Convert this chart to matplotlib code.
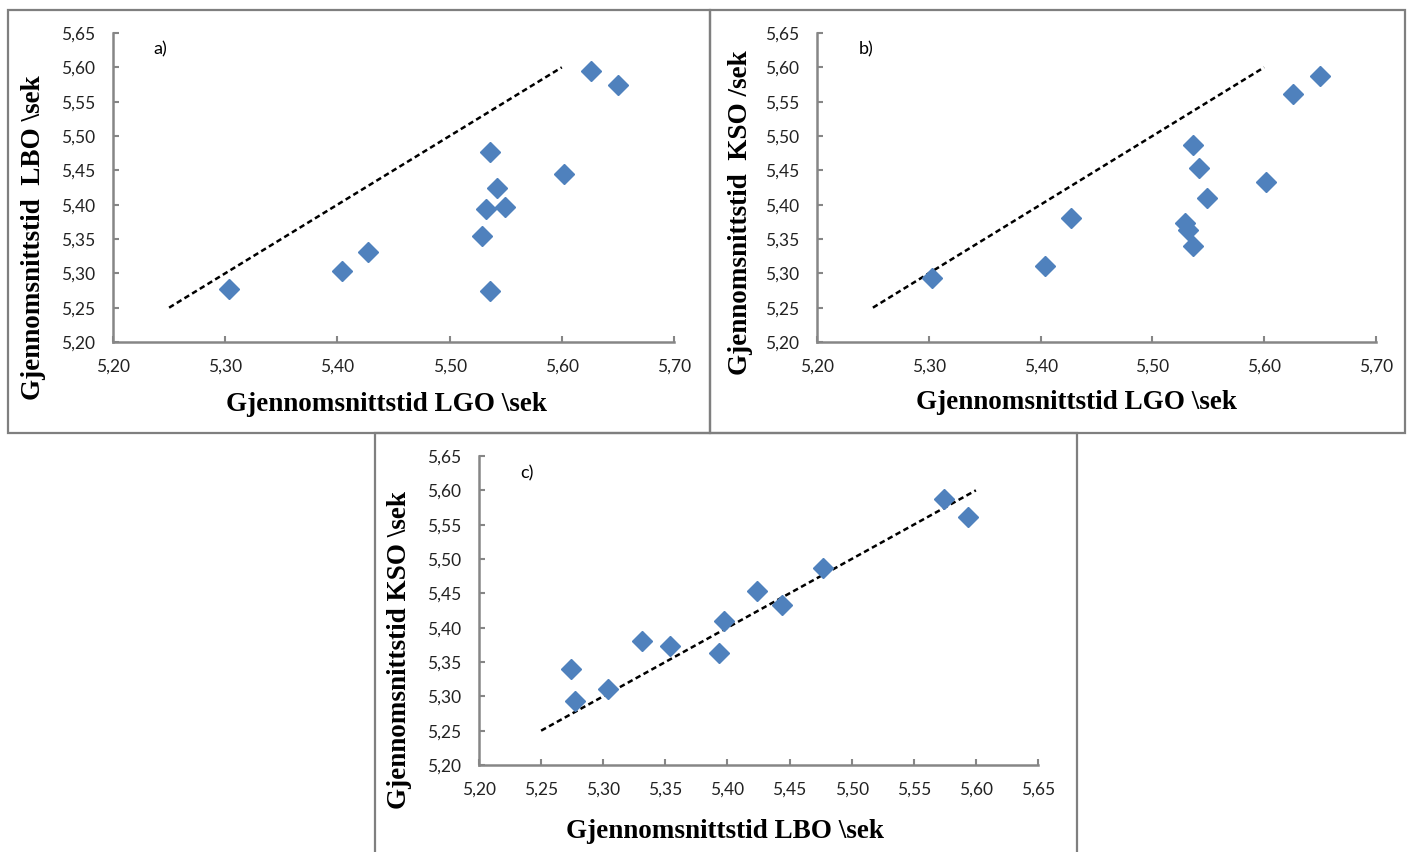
import matplotlib
matplotlib.use("Agg")
import matplotlib.pyplot as plt
from matplotlib.patches import Rectangle

# ---- data (12 participants) ----
lgo = [5.303, 5.404, 5.427, 5.529, 5.532, 5.536, 5.536, 5.542, 5.549, 5.602, 5.626, 5.650]
lbo = [5.277, 5.304, 5.331, 5.354, 5.393, 5.477, 5.274, 5.424, 5.397, 5.444, 5.594, 5.574]
kso = [5.293, 5.310, 5.380, 5.374, 5.363, 5.487, 5.340, 5.453, 5.410, 5.433, 5.561, 5.587]
ref_line = [5.25, 5.60]

xticks_ab = [5.20, 5.30, 5.40, 5.50, 5.60, 5.70]
xticks_c = [5.20, 5.25, 5.30, 5.35, 5.40, 5.45, 5.50, 5.55, 5.60, 5.65]
yticks = [5.20, 5.25, 5.30, 5.35, 5.40, 5.45, 5.50, 5.55, 5.60, 5.65]

W, H = 1407, 852
fig = plt.figure(figsize=(W / 100, H / 100), dpi=100)
fig.patch.set_facecolor("white")

GRAY = "#868686"
BLUE = "#4F81BD"
TICKFONT = "Lato"
LABFONT = "Liberation Serif"


def px_axes(x0, y0, x1, y1):
    return fig.add_axes([x0 / W, 1 - y1 / H, (x1 - x0) / W, (y1 - y0) / H])


def fmt(v):
    return f"{v:.2f}".replace(".", ",")


def panel(ax, xs, ys, xticks, tag, xlab, ylab, tagpos, xlabpos, ylabpos):
    ax.plot(ref_line, ref_line, linestyle=(0, (2.2, 1.4)), color="black", lw=1.8, zorder=2)
    ax.plot(xs, ys, linestyle="none", marker="D", ms=9.8, color=BLUE,
            markeredgecolor=BLUE, zorder=3)
    ax.set_xlim(xticks[0], xticks[-1])
    ax.set_ylim(yticks[0], yticks[-1])
    ax.set_xticks(xticks)
    ax.set_yticks(yticks)
    ax.set_xticklabels([fmt(v) for v in xticks], fontsize=12.5, family=TICKFONT, color="#222222")
    ax.set_yticklabels([fmt(v) for v in yticks], fontsize=12.5, family=TICKFONT, color="#222222")
    for s in ["top", "right"]:
        ax.spines[s].set_visible(False)
    for s in ["left", "bottom"]:
        ax.spines[s].set_color(GRAY)
        ax.spines[s].set_linewidth(1.8)
    ax.tick_params(axis="both", direction="in", length=4, width=1.5, color=GRAY)
    ax.tick_params(axis="x", pad=12)
    ax.tick_params(axis="y", pad=13)
    ax.set_facecolor("none")
    fig.text(tagpos[0] / W, 1 - tagpos[1] / H, tag, fontsize=13, family=TICKFONT,
             ha="center", va="center")
    fig.text(xlabpos[0] / W, 1 - xlabpos[1] / H, xlab, fontsize=19.5, family=LABFONT,
             fontweight="bold", ha="center", va="center")
    fig.text(ylabpos[0] / W, 1 - ylabpos[1] / H, ylab, fontsize=19.5, family=LABFONT,
             fontweight="bold", ha="center", va="center", rotation=90)


# panel borders
for (x0, y0, x1, y1) in [(8, 10, 710, 433), (710, 10, 1405, 433), (375, 433, 1077, 860)]:
    fig.add_artist(Rectangle((x0 / W, 1 - y1 / H), (x1 - x0) / W, (y1 - y0) / H,
                             transform=fig.transFigure, fill=False,
                             edgecolor="#7f7f7f", lw=1.6))

ax_a = px_axes(113, 33, 674, 342)
panel(ax_a, lgo, lbo, xticks_ab, "a)", "Gjennomsnittstid LGO \\sek",
      "Gjennomsnittstid  LBO \\sek", (160, 49), (386, 405), (34, 238))

ax_b = px_axes(817, 33, 1376, 342)
panel(ax_b, lgo, kso, xticks_ab, "b)", "Gjennomsnittstid LGO \\sek",
      "Gjennomsnittstid  KSO /sek", (866, 49), (1076, 402), (741, 213))

ax_c = px_axes(479, 456, 1038, 765)
panel(ax_c, lbo, kso, xticks_c, "c)", "Gjennomsnittstid LBO \\sek",
      "Gjennomsnittstid KSO \\sek", (527, 473), (725, 832), (399, 650))

fig.savefig("out.png", dpi=100, facecolor="white")
